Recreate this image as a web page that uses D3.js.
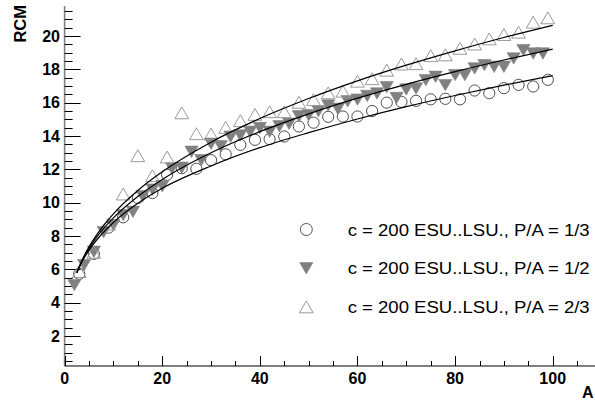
<!DOCTYPE html>
<html><head><meta charset="utf-8">
<script src="https://cdn.jsdelivr.net/npm/d3@7"></script>
<style>body{margin:0;background:#fff}svg{display:block}</style>
</head><body><svg id="c" width="595" height="400"></svg>
<script>
// ---- data ----
const xCircle = d3.range(3, 100, 3);
const yCircle = [5.73,6.93,8.5,9.12,10.28,10.58,11.67,12.07,12.03,12.55,
  12.9,13.47,13.77,13.81,13.97,14.57,14.8,15.15,15.17,15.17,
  15.5,16.0,16.05,16.11,16.2,16.23,16.2,16.73,16.57,16.87,
  17.07,16.97,17.37];
const xDown = d3.range(2, 100, 2);
const yDown = [5.07,6.27,7.07,8.25,8.67,9.27,9.47,10.4,10.8,11.0,
  12.07,12.11,13.07,12.57,13.55,13.4,13.97,14.05,14.27,14.5,
  14.27,14.6,14.75,15.2,15.27,15.5,15.85,15.65,16.1,16.2,
  16.42,16.57,16.95,16.3,16.81,16.87,17.37,17.57,17.07,17.67,
  17.67,18.07,18.27,18.17,18.17,18.67,19.17,18.97,18.97];
const xUp = d3.range(3, 100, 3);
const yUp = [5.85,7.0,8.7,10.5,12.8,11.6,12.72,15.37,14.12,14.1,
  14.5,14.9,15.28,15.44,15.44,16.0,16.17,16.57,16.67,17.27,
  17.42,17.93,18.3,18.32,18.8,18.85,19.24,19.5,19.81,20.07,
  20.21,20.81,21.07];
const xFit = [2.5,3.5,5,7,10,15,20,30,40,50,60,70,80,90,100];
const yFitUp   = [5.8,6.5,7.35,8.25,9.33,10.73,11.85,13.63,15.05,16.25,17.31,18.25,19.11,19.91,20.64];
const yFitDown = [5.8,6.46,7.26,8.1,9.09,10.37,11.39,12.99,14.26,15.33,16.27,17.10,17.86,18.56,19.21];
const yFitCirc = [5.8,6.42,7.15,7.91,8.81,9.96,10.86,12.2,13.3,14.2,15.02,15.76,16.43,17.05,17.62];
const xTicks = [0,20,40,60,80,100];
const yTicks = [2,4,6,8,10,12,14,16,18,20];
const legendLabels = ["c = 200 ESU..LSU., P/A = 1/3","c = 200 ESU..LSU., P/A = 1/2","c = 200 ESU..LSU., P/A = 2/3"];

const svg = d3.select("#c");
svg.append("rect").attr("width",595).attr("height",400).attr("fill","#fff");
const x = d3.scaleLinear().domain([0,108.6]).range([64.6,594.7]);
const y = d3.scaleLinear().domain([0.2,21.8]).range([366,6]);

// y axis
const yAx = svg.append("g");
yAx.append("line").attr("x1",x(0)).attr("x2",x(0)).attr("y1",y(0.2)).attr("y2",y(21.8))
  .attr("stroke","#808080").attr("stroke-width",1.6);
d3.range(0.5,21.6,0.5).forEach(v=>{
  const major = Math.abs(v/2-Math.round(v/2))<1e-9;
  yAx.append("line").attr("x1",x(0)).attr("x2",x(0)+(major?16:8))
    .attr("y1",Math.round(y(v))+0.5).attr("y2",Math.round(y(v))+0.5)
    .attr("stroke","#000").attr("stroke-width",1);
});
yAx.selectAll("text.yl").data(yTicks).join("text").attr("class","yl")
  .attr("x",60).attr("y",d=>y(d)+5.8).attr("text-anchor","end")
  .attr("font-family","Liberation Sans, Arial, sans-serif").attr("font-weight","bold")
  .attr("font-size",16).text(d=>d);
svg.append("text").attr("transform","translate(26,5) rotate(-90)").attr("text-anchor","end")
  .attr("font-family","Liberation Sans, Arial, sans-serif").attr("font-weight","bold")
  .attr("font-size",16.5).text("RCM");

// x axis
const xAx = svg.append("g");
xAx.append("line").attr("x1",x(0)).attr("x2",595).attr("y1",366).attr("y2",366)
  .attr("stroke","#000").attr("stroke-width",1.2);
d3.range(0,106,5).forEach(v=>{
  const major = v%20===0;
  xAx.append("line").attr("x1",Math.round(x(v))+0.5).attr("x2",Math.round(x(v))+0.5)
    .attr("y1",366).attr("y2",366-(major?10:5)).attr("stroke","#000").attr("stroke-width",1);
});
xAx.selectAll("text.xl").data(xTicks).join("text").attr("class","xl")
  .attr("x",d=>x(d)).attr("y",383.5).attr("text-anchor","middle")
  .attr("font-family","Liberation Sans, Arial, sans-serif").attr("font-weight","bold")
  .attr("font-size",16).text(d=>d);
svg.append("text").attr("x",582).attr("y",398)
  .attr("font-family","Liberation Sans, Arial, sans-serif").attr("font-weight","bold")
  .attr("font-size",16).text("A");

// markers
const triUp = (cx,cy,s)=>`M${cx},${cy-s*0.5}L${cx+s*0.55},${cy+s*0.45}L${cx-s*0.55},${cy+s*0.45}Z`;
const triDown = (cx,cy,s)=>`M${cx},${cy+s*0.5}L${cx+s*0.55},${cy-s*0.45}L${cx-s*0.55},${cy-s*0.45}Z`;
const circData = xCircle.map((v,i)=>[v,yCircle[i]]);
const downData = xDown.map((v,i)=>[v,yDown[i]]);
const upData = xUp.map((v,i)=>[v,yUp[i]]);

svg.append("g").selectAll("circle").data(circData).join("circle")
  .attr("cx",d=>x(d[0])).attr("cy",d=>y(d[1])).attr("r",5.6)
  .attr("fill","none").attr("stroke","#4d4d4d").attr("stroke-width",1);
svg.append("g").selectAll("path").data(downData).join("path")
  .attr("d",d=>triDown(x(d[0]),y(d[1]),12)).attr("fill","#808080").attr("stroke","#808080").attr("stroke-width",0.6);
svg.append("g").selectAll("path").data(upData).join("path")
  .attr("d",d=>triUp(x(d[0]),y(d[1]),12.5)).attr("fill","none").attr("stroke","#9a9a9a").attr("stroke-width",1);

// fit lines
const line = d3.line().x(d=>x(d[0])).y(d=>y(d[1])).curve(d3.curveMonotoneX);
[yFitUp,yFitDown,yFitCirc].forEach(arr=>{
  svg.append("path").datum(xFit.map((v,i)=>[v,arr[i]])).attr("d",line)
    .attr("fill","none").attr("stroke","#000").attr("stroke-width",1.2);
});

// legend
const lg = svg.append("g");
const rowsY = [229.5,268,307.2];
lg.append("circle").attr("cx",306.3).attr("cy",rowsY[0]).attr("r",6)
  .attr("fill","none").attr("stroke","#555").attr("stroke-width",1);
lg.append("path").attr("d",triDown(306.3,rowsY[1],12)).attr("fill","#808080").attr("stroke","#808080").attr("stroke-width",0.6);
lg.append("path").attr("d",triUp(306.3,rowsY[2],12.5)).attr("fill","none").attr("stroke","#9a9a9a").attr("stroke-width",1);
lg.selectAll("text").data(legendLabels).join("text")
  .attr("x",347.7).attr("y",(d,i)=>rowsY[i]+6)
  .attr("font-family","Liberation Sans, Arial, sans-serif").attr("font-size",16)
  .attr("textLength",242).attr("lengthAdjust","spacingAndGlyphs")
  .text(d=>d);
</script></body></html>
